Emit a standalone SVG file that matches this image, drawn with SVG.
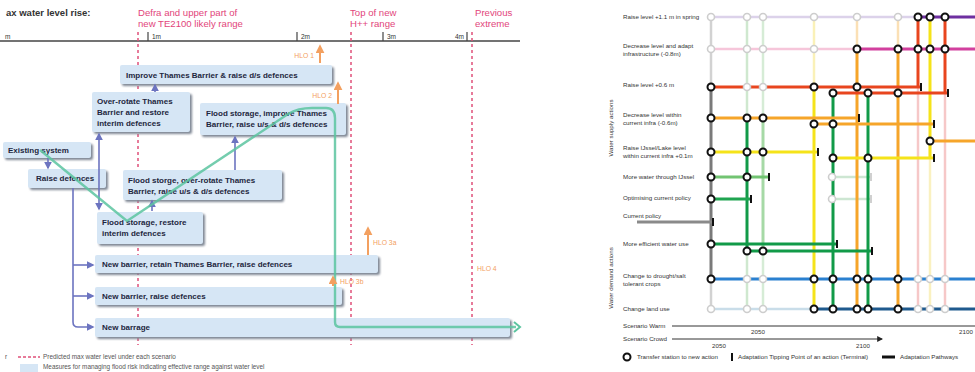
<svg xmlns="http://www.w3.org/2000/svg" width="975" height="372" viewBox="0 0 975 372">
<defs>
<filter id="sh" x="-10%" y="-20%" width="130%" height="160%"><feGaussianBlur stdDeviation="1"/></filter>
<marker id="ap" viewBox="0 0 10 10" refX="8" refY="5" markerWidth="5" markerHeight="5" orient="auto-start-reverse"><path d="M0,0 L10,5 L0,10 z" fill="#6c74c0"/></marker>
<marker id="ao" viewBox="0 0 10 10" refX="8" refY="5" markerWidth="4.5" markerHeight="4.5" orient="auto"><path d="M0,0 L10,5 L0,10 z" fill="#f3a060"/></marker>
<marker id="ak" viewBox="0 0 10 10" refX="8" refY="5" markerWidth="6" markerHeight="6" orient="auto"><path d="M0,0 L10,5 L0,10 z" fill="#222"/></marker>
</defs>
<style>
.t{font-family:"Liberation Sans",Arial,sans-serif}
.bx{fill:#d6e6f5}
.sd{fill:#7f8794;filter:url(#sh)}
.bt{font-family:"Liberation Sans",Arial,sans-serif;font-weight:bold;font-size:8px;fill:#1e2640}
.red{font-family:"Liberation Sans",Arial,sans-serif;font-size:9.6px;fill:#e2457b}
.dash{stroke:#e0507a;stroke-width:1.5;stroke-dasharray:3 3;fill:none}
.pc{stroke:#6c74c0;stroke-width:1.6;fill:none}
.ho{stroke:#f3a060;stroke-width:2;fill:none}
.hl{font-family:"Liberation Sans",Arial,sans-serif;font-size:6.8px;fill:#f3a060}
.tk{font-family:"Liberation Sans",Arial,sans-serif;font-size:6.5px;fill:#333}
.lg{font-family:"Liberation Sans",Arial,sans-serif;font-size:6.4px;fill:#555}
.rl{font-family:"Liberation Sans",Arial,sans-serif;font-size:6.2px;fill:#333}
.ln{fill:none;stroke-width:3}
.pl{fill:none;stroke-width:2.5}
.nd{fill:#fff;stroke:#111;stroke-width:2}
.nf{fill:#fff;stroke:#cdcdcd;stroke-width:1.6}
.tm{fill:#111}
</style>
<rect width="975" height="372" fill="#fff"/>

<!-- LEFT DIAGRAM -->
<g id="header">
<text class="t" x="6" y="16" font-size="9.5" font-weight="bold" fill="#333">ax water level rise:</text>
<text class="red" x="138" y="16">Defra and upper part of</text>
<text class="red" x="138" y="27">new TE2100 likely range</text>
<text class="red" x="350" y="16">Top of new</text>
<text class="red" x="350" y="27">H++ range</text>
<text class="red" x="475" y="16">Previous</text>
<text class="red" x="475" y="27">extreme</text>
</g>
<g id="axis">
<line x1="0" y1="41" x2="520" y2="41" stroke="#444" stroke-width="1.4"/>
<g stroke="#444" stroke-width="1.2"><line x1="148" y1="32" x2="148" y2="41"/><line x1="297" y1="32" x2="297" y2="41"/><line x1="383" y1="32" x2="383" y2="41"/><line x1="467" y1="32" x2="467" y2="41"/></g>
<text class="tk" x="5" y="39">m</text>
<text class="tk" x="152" y="39">1m</text>
<text class="tk" x="301" y="39">2m</text>
<text class="tk" x="387" y="39">3m</text>
<text class="tk" x="464" y="39" text-anchor="end">4m</text>
</g>
<g id="scenario-lines">
<line class="dash" x1="138" y1="32" x2="138" y2="345"/>
<line class="dash" x1="351" y1="32" x2="351" y2="345"/>
<line class="dash" x1="472" y1="32" x2="472" y2="345"/>
</g>

<g id="b1"><rect class="sd" x="122" y="67" width="212" height="19" rx="2"/><rect class="bx" x="120" y="65" width="212" height="19" rx="2"/><text class="bt" x="126" y="77.5">Improve Thames Barrier &amp; raise d/s defences</text></g>
<g id="b2"><rect class="sd" x="94" y="94" width="98" height="40" rx="2"/><rect class="bx" x="92" y="92" width="98" height="40" rx="2"/><text class="bt" x="97" y="104">Over-rotate Thames</text><text class="bt" x="97" y="115">Barrier and restore</text><text class="bt" x="97" y="126">interim defences</text></g>
<g id="b3"><rect class="sd" x="202" y="105" width="146" height="32" rx="2"/><rect class="bx" x="200" y="103" width="146" height="32" rx="2"/><text class="bt" x="206" y="116">Flood storage, improve Thames</text><text class="bt" x="206" y="127">Barrier, raise u/s &amp; d/s defences</text></g>
<g id="b4"><rect class="sd" x="5" y="144" width="88" height="16" rx="2"/><rect class="bx" x="3" y="142" width="88" height="16" rx="2"/><text class="bt" x="8" y="153">Existing system</text></g>
<g id="b5"><rect class="sd" x="30" y="171" width="78" height="19" rx="2"/><rect class="bx" x="28" y="169" width="78" height="19" rx="2"/><text class="bt" x="36" y="181">Raise defences</text></g>
<g id="b6"><rect class="sd" x="125" y="172" width="159" height="30" rx="2"/><rect class="bx" x="123" y="170" width="159" height="30" rx="2"/><text class="bt" x="128" y="183">Flood storge, over-rotate Thames</text><text class="bt" x="128" y="194">Barrier, raise u/s &amp; d/s defences</text></g>
<g id="b7"><rect class="sd" x="99" y="214" width="106" height="32" rx="2"/><rect class="bx" x="97" y="212" width="106" height="32" rx="2"/><text class="bt" x="102" y="225">Flood storage, restore</text><text class="bt" x="102" y="236">interim defences</text></g>
<g id="b8"><rect class="sd" x="97" y="257" width="283" height="18" rx="2"/><rect class="bx" x="95" y="255" width="283" height="18" rx="2"/><text class="bt" x="102" y="267">New barrier, retain Thames Barrier, raise defences</text></g>
<g id="b9"><rect class="sd" x="97" y="289" width="247" height="18" rx="2"/><rect class="bx" x="95" y="287" width="247" height="18" rx="2"/><text class="bt" x="102" y="299">New barrier, raise defences</text></g>
<g id="b10"><rect class="sd" x="97" y="320" width="415" height="19" rx="2"/><rect class="bx" x="95" y="318" width="415" height="19" rx="2"/><text class="bt" x="102" y="330">New barrage</text></g>

<g id="connectors">
<line class="pc" x1="48" y1="158" x2="48" y2="168" marker-end="url(#ap)"/>
<path class="pc" d="M73 188 L73 322 Q73 327 78 327 L93 327" marker-end="url(#ap)"/>
<line class="pc" x1="73" y1="265" x2="93" y2="265" marker-end="url(#ap)"/>
<line class="pc" x1="73" y1="296" x2="93" y2="296" marker-end="url(#ap)"/>
<line class="pc" x1="99" y1="134" x2="99" y2="209" marker-start="url(#ap)" marker-end="url(#ap)"/>
<line class="pc" x1="152" y1="211" x2="152" y2="201" marker-end="url(#ap)"/>
<line class="pc" x1="155" y1="92" x2="155" y2="85" marker-end="url(#ap)"/>
<line class="pc" x1="235" y1="170" x2="235" y2="137" marker-end="url(#ap)"/>
<path d="M40 150 L127 221 L288 114 Q298 108 312 108 L326 108 Q335 108 335 118 L335 322 Q335 327 340 327 L516 327" fill="none" stroke="#5cc4a0" stroke-width="2.4" stroke-opacity="0.85"/>
<path d="M514 322 L520 327 L514 332" fill="none" stroke="#5cc4a0" stroke-width="2"/>
</g>
<g id="hlo">
<line class="ho" x1="320" y1="63" x2="320" y2="46" marker-end="url(#ao)"/><text class="hl" x="314" y="58" text-anchor="end">HLO 1</text>
<line class="ho" x1="338" y1="104" x2="338" y2="83" marker-end="url(#ao)"/><text class="hl" x="332" y="98" text-anchor="end">HLO 2</text>
<line class="ho" x1="368" y1="255" x2="368" y2="228" marker-end="url(#ao)"/><text class="hl" x="373" y="245">HLO 3a</text>
<line class="ho" x1="333" y1="286" x2="333" y2="277" marker-end="url(#ao)"/><text class="hl" x="340" y="284">HLO 3b</text>
<text class="hl" x="477" y="271">HLO 4</text>
</g>
<g id="legend-left">
<text class="lg" x="5" y="359">r</text>
<line x1="18" y1="357" x2="40" y2="357" stroke="#e0507a" stroke-width="1.4" stroke-dasharray="3 2"/>
<text class="lg" x="43" y="359">Predicted max water level under each scenario</text>
<rect x="20" y="364" width="18" height="8" fill="#d6e6f5"/>
<text class="lg" x="43" y="369">Measures for managing flood risk indicating effective range against water level</text>
</g>

<!-- RIGHT DIAGRAM -->
<g id="row-labels">
<text class="rl" x="623" y="19">Raise level +1.1 m in spring</text>
<text class="rl" x="623" y="48">Decrease level and adapt</text>
<text class="rl" x="623" y="56">infrastructure (-0.8m)</text>
<text class="rl" x="623" y="87">Raise level +0.6 m</text>
<text class="rl" x="623" y="117">Decrease level within</text>
<text class="rl" x="623" y="125">current infra (-0.6m)</text>
<text class="rl" x="623" y="150">Raise IJssel/Lake level</text>
<text class="rl" x="623" y="158">within current infra +0.1m</text>
<text class="rl" x="623" y="179">More water through IJssel</text>
<text class="rl" x="623" y="200">Optimising current policy</text>
<text class="rl" x="623" y="218">Current policy</text>
<text class="rl" x="623" y="246">More efficient water use</text>
<text class="rl" x="623" y="278">Change to drought/salt</text>
<text class="rl" x="623" y="286">tolerant crops</text>
<text class="rl" x="623" y="311">Change land use</text>
<text class="rl" x="613" y="128" text-anchor="middle" transform="rotate(-90 613 128)" font-size="7" fill="#555">Water supply actions</text>
<text class="rl" x="613" y="278" text-anchor="middle" transform="rotate(-90 613 278)" font-size="7" fill="#555">Water demand actions</text>
</g>

<g id="pathways">
<line class="pl" x1="711" y1="17" x2="711" y2="87" stroke="#d2d2d2"/>
<line class="pl" x1="711" y1="279" x2="711" y2="309" stroke="#d2d2d2"/>
<line class="pl" x1="747" y1="17" x2="747" y2="118" stroke="#cfe8cf"/>
<line class="pl" x1="747" y1="251" x2="747" y2="309" stroke="#cfe8cf"/>
<line class="pl" x1="763" y1="17" x2="763" y2="118" stroke="#d6ecd6"/>
<line class="pl" x1="763" y1="251" x2="763" y2="309" stroke="#d6ecd6"/>
<line class="pl" x1="814" y1="17" x2="814" y2="87" stroke="#faf1b8"/>
<line class="pl" x1="857" y1="17" x2="857" y2="49" stroke="#fbe0b5"/>
<line class="pl" x1="898" y1="17" x2="898" y2="49" stroke="#fbe0b5"/>
<line class="pl" x1="918" y1="87" x2="918" y2="309" stroke="#f6c8c8"/>
<line class="pl" x1="930" y1="141" x2="930" y2="309" stroke="#faf1c0"/>
<line class="pl" x1="945" y1="93" x2="945" y2="309" stroke="#f6c8c8"/>
<line class="pl" x1="711" y1="17" x2="918" y2="17" stroke="#dcd2ea"/>
<line class="pl" x1="711" y1="49" x2="857" y2="49" stroke="#f6c6da"/>
<line class="pl" x1="711" y1="309" x2="814" y2="309" stroke="#c9dde9"/>
<line class="pl" x1="832" y1="177" x2="871" y2="177" stroke="#cde6d2"/>
<line class="pl" x1="832" y1="199" x2="871" y2="199" stroke="#cde6d2"/>
<rect x="870" y="173" width="2" height="8" fill="#d0d0d0"/>
<rect x="870" y="195" width="2" height="8" fill="#d0d0d0"/>
<line class="ln" x1="711" y1="87" x2="711" y2="279" stroke="#7a7a7a"/>
<line class="ln" x1="747" y1="118" x2="747" y2="251" stroke="#119a48"/>
<line class="ln" x1="763" y1="118" x2="763" y2="251" stroke="#a6d9a6"/>
<line class="ln" x1="814" y1="87" x2="814" y2="309" stroke="#f5e31a"/>
<line class="ln" x1="833" y1="93" x2="833" y2="309" stroke="#119a48"/>
<line class="ln" x1="857" y1="49" x2="857" y2="309" stroke="#f6a52a"/>
<line class="ln" x1="868" y1="93" x2="868" y2="309" stroke="#119a48"/>
<line class="ln" x1="898" y1="49" x2="898" y2="309" stroke="#f6a52a"/>
<line class="ln" x1="918" y1="17" x2="918" y2="87" stroke="#e8451e"/>
<line class="ln" x1="930" y1="17" x2="930" y2="158" stroke="#f5e31a"/>
<line class="ln" x1="945" y1="17" x2="945" y2="93" stroke="#e8451e"/>
<line class="ln" x1="918" y1="17" x2="975" y2="17" stroke="#6e2fa0"/>
<line class="ln" x1="857" y1="49" x2="975" y2="49" stroke="#d2409e"/>
<line class="ln" x1="711" y1="87" x2="921" y2="87" stroke="#e8451e"/>
<line class="ln" x1="833" y1="93" x2="948" y2="93" stroke="#e8451e"/>
<line class="ln" x1="711" y1="118" x2="859" y2="118" stroke="#f6a52a"/>
<line class="ln" x1="814" y1="124" x2="934" y2="124" stroke="#f6a52a"/>
<line class="ln" x1="930" y1="141" x2="975" y2="141" stroke="#f6a52a"/>
<line class="ln" x1="711" y1="152" x2="818" y2="152" stroke="#f5e31a"/>
<line class="ln" x1="833" y1="158" x2="934" y2="158" stroke="#f5e31a"/>
<line class="ln" x1="711" y1="177" x2="769" y2="177" stroke="#72c472"/>
<line class="ln" x1="711" y1="199" x2="751" y2="199" stroke="#1fa450"/>
<line class="ln" x1="637" y1="222" x2="713" y2="222" stroke="#8a8a8a"/>
<line class="ln" x1="711" y1="244" x2="837" y2="244" stroke="#119a48"/>
<line class="ln" x1="747" y1="251" x2="872" y2="251" stroke="#119a48"/>
<line class="ln" x1="711" y1="279" x2="975" y2="279" stroke="#2a80d0"/>
<line class="ln" x1="814" y1="309" x2="975" y2="309" stroke="#1f5a8e"/>
</g>
<g id="terminals">
<rect class="tm" x="920" y="83" width="2" height="8"/>
<rect class="tm" x="947" y="89" width="2" height="8"/>
<rect class="tm" x="858" y="114" width="2" height="8"/>
<rect class="tm" x="933" y="120" width="2" height="8"/>
<rect class="tm" x="817" y="148" width="2" height="8"/>
<rect class="tm" x="933" y="154" width="2" height="8"/>
<rect class="tm" x="768" y="173" width="2" height="8"/>
<rect class="tm" x="750" y="195" width="2" height="8"/>
<rect class="tm" x="712" y="218" width="2" height="8"/>
<rect class="tm" x="836" y="240" width="2" height="8"/>
<rect class="tm" x="871" y="247" width="2" height="8"/>
</g>
<g id="stations">
<g class="nf">
<circle cx="711" cy="17" r="3.5"/><circle cx="747" cy="17" r="3.5"/><circle cx="763" cy="17" r="3.5"/><circle cx="814" cy="17" r="3.5"/><circle cx="857" cy="17" r="3.5"/><circle cx="898" cy="17" r="3.5"/>
<circle cx="711" cy="49" r="3.5"/><circle cx="747" cy="49" r="3.5"/><circle cx="763" cy="49" r="3.5"/><circle cx="814" cy="49" r="3.5"/>
<circle cx="747" cy="87" r="3.5"/><circle cx="763" cy="87" r="3.5"/>
<circle cx="832" cy="177" r="3.5"/><circle cx="832" cy="199" r="3.5"/>
<circle cx="747" cy="279" r="3.5"/><circle cx="763" cy="279" r="3.5"/><circle cx="918" cy="279" r="3.5"/><circle cx="930" cy="279" r="3.5"/><circle cx="945" cy="279" r="3.5"/>
<circle cx="711" cy="309" r="3.5"/><circle cx="747" cy="309" r="3.5"/><circle cx="763" cy="309" r="3.5"/><circle cx="918" cy="309" r="3.5"/><circle cx="930" cy="309" r="3.5"/><circle cx="945" cy="309" r="3.5"/>
</g>
<g class="nd">
<circle cx="918" cy="17" r="3.5"/><circle cx="930" cy="17" r="3.5"/><circle cx="945" cy="17" r="3.5"/>
<circle cx="857" cy="49" r="3.5"/><circle cx="898" cy="49" r="3.5"/><circle cx="918" cy="49" r="3.5"/><circle cx="930" cy="49" r="3.5"/><circle cx="945" cy="49" r="3.5"/>
<circle cx="711" cy="87" r="3.5"/><circle cx="814" cy="87" r="3.5"/><circle cx="857" cy="87" r="3.5"/>
<circle cx="833" cy="93" r="3.5"/><circle cx="868" cy="93" r="3.5"/><circle cx="898" cy="93" r="3.5"/>
<circle cx="711" cy="118" r="3.5"/><circle cx="747" cy="118" r="3.5"/><circle cx="763" cy="118" r="3.5"/>
<circle cx="814" cy="124" r="3.5"/><circle cx="833" cy="124" r="3.5"/>
<circle cx="930" cy="141" r="3.5"/>
<circle cx="711" cy="152" r="3.5"/><circle cx="747" cy="152" r="3.5"/><circle cx="763" cy="152" r="3.5"/>
<circle cx="833" cy="158" r="3.5"/><circle cx="868" cy="158" r="3.5"/>
<circle cx="711" cy="177" r="3.5"/><circle cx="747" cy="177" r="3.5"/>
<circle cx="711" cy="199" r="3.5"/>
<circle cx="711" cy="244" r="3.5"/>
<circle cx="747" cy="251" r="3.5"/><circle cx="763" cy="251" r="3.5"/>
<circle cx="711" cy="279" r="3.5"/><circle cx="814" cy="279" r="3.5"/><circle cx="833" cy="279" r="3.5"/><circle cx="857" cy="279" r="3.5"/><circle cx="868" cy="279" r="3.5"/><circle cx="898" cy="279" r="3.5"/>
<circle cx="814" cy="309" r="3.5"/><circle cx="833" cy="309" r="3.5"/><circle cx="857" cy="309" r="3.5"/><circle cx="868" cy="309" r="3.5"/><circle cx="898" cy="309" r="3.5"/>
</g>
</g>
<g id="scenarios">
<text class="rl" x="623" y="328">Scenario Warm</text>
<line x1="672" y1="326" x2="975" y2="326" stroke="#333" stroke-width="1"/>
<text class="rl" x="758" y="334" text-anchor="middle">2050</text>
<text class="rl" x="966" y="334" text-anchor="middle">2100</text>
<text class="rl" x="623" y="341">Scenario Crowd</text>
<line x1="672" y1="339" x2="882" y2="339" stroke="#333" stroke-width="1" marker-end="url(#ak)"/>
<text class="rl" x="719" y="348" text-anchor="middle">2050</text>
<text class="rl" x="863" y="348" text-anchor="middle">2100</text>
</g>
<g id="legend-right">
<circle class="nd" cx="627" cy="357" r="3.5"/>
<text class="rl" x="637" y="359">Transfer station to new action</text>
<rect class="tm" x="731" y="353" width="2" height="8"/>
<text class="rl" x="738" y="359">Adaptation Tipping Point of an action (Terminal)</text>
<line x1="882" y1="357" x2="895" y2="357" stroke="#111" stroke-width="3"/>
<text class="rl" x="900" y="359">Adaptation Pathways</text>
</g>
</svg>
